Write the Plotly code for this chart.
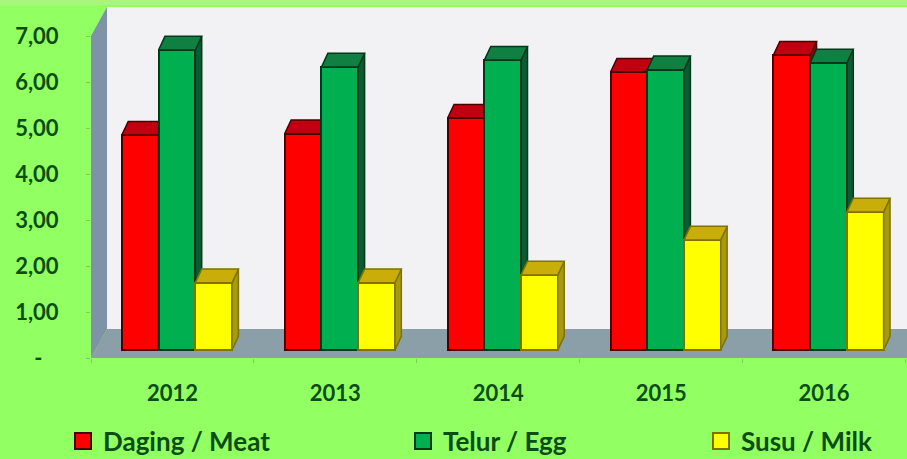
import plotly.graph_objects as go

years = ["2012", "2013", "2014", "2015", "2016"]
daging = [4.67, 4.70, 5.04, 6.04, 6.41]
telur = [6.52, 6.15, 6.30, 6.09, 6.24]
susu = [1.46, 1.46, 1.63, 2.39, 3.00]
y_ticks = [0, 1, 2, 3, 4, 5, 6, 7]
y_labels = ["-\u00a0\u00a0\u00a0", "1,00", "2,00", "3,00", "4,00", "5,00", "6,00", "7,00"]

W, H = 907, 459
ML, MB = 91, 101
PX_CAT = 162.9
PX_VAL = 46.0
X_MAX = (W - ML) / PX_CAT
Y_MAX = (H - MB) / PX_VAL
DX = 16 / PX_CAT      # full depth of the box in x units
DY = 29 / PX_VAL      # full depth of the box in y units
D0, D1 = 0.28, 0.75   # bars' front and back planes
BAR_W = 0.2255

TXT = "#0b4d14"
FONT = "Lato"
series = [
    ("Daging / Meat", daging, "#FF0000", "#C00010", "#8E0000", "#4a0000", -1, "x", "y"),
    ("Telur / Egg", telur, "#00B050", "#0F7F42", "#0A5C33", "#02381a", 0, "x2", "y2"),
    ("Susu / Milk", susu, "#FFFF00", "#C9AE0A", "#A89A10", "#7f7200", 1, "x3", "y3"),
]

fig = go.Figure()
for name, vals, front, top, side, edge, slot, xa, ya in series:
    xl = [i + 0.5 + slot * BAR_W - BAR_W / 2 + D0 * DX for i in range(len(years))]
    xr = [a + BAR_W for a in xl]
    sx, sy, tx, ty = [], [], [], []
    ddx = 0.40 * DX
    ddy = (D1 - D0) * DY
    for a, b, v in zip(xl, xr, vals):
        y0 = D0 * DY
        y1 = y0 + v
        tx += [a, b, b + ddx, a + ddx, a, None]
        ty += [y1, y1, y1 + ddy, y1 + ddy, y1, None]
        sx += [b, b + ddx, b + ddx, b, b, None]
        sy += [y0, y0 + ddy, y1 + ddy, y1, y0, None]
    for px, py, col in ((sx, sy, side), (tx, ty, top)):
        fig.add_trace(go.Scatter(x=px, y=py, mode="lines", fill="toself", fillcolor=col,
                                 line=dict(color=edge, width=1.5), xaxis=xa, yaxis=ya,
                                 showlegend=False, hoverinfo="skip"))
    fig.add_trace(go.Bar(x=[a + BAR_W / 2 for a in xl], y=vals, base=D0 * DY, width=BAR_W,
                         marker=dict(color=front, line=dict(color=edge, width=2)),
                         xaxis=xa, yaxis=ya, showlegend=False, name=name))

# legend entries, one legend per series so each can sit at its own place
legend_px = [63, 403, 701]
legend_ids = ["legend", "legend2", "legend3"]
legend_cfg = {}
for (name, vals, front, top, side, edge, slot, xa, ya), lid, lx in zip(series, legend_ids, legend_px):
    fig.add_trace(go.Scatter(x=[None], y=[None], mode="markers", name=name, legend=lid,
                             marker=dict(symbol="square", size=16, color=front,
                                         line=dict(color=edge, width=2))))
    legend_cfg[lid] = dict(x=(lx - ML) / (W - ML), y=(H - MB - 441) / (H - MB), xanchor="left",
                           yanchor="middle", bgcolor="rgba(0,0,0,0)", borderwidth=0,
                           itemsizing="trace", itemwidth=30,
                           font=dict(family=FONT, size=26, color=TXT, weight=700))

wall = "#F2F2F5"
floor = "#8A9FA8"
lwall = "#7F93A8"
shapes = [
    dict(type="rect", xref="paper", yref="paper", x0=-0.2, x1=1, y0=(H - MB - 5) / (H - MB), y1=1.0,
         fillcolor="#A8F67E", line_width=0, layer="below"),
    dict(type="path", xref="x", yref="y", layer="below", fillcolor=wall, line_width=0,
         path=f"M {DX} {DY} L {X_MAX} {DY} L {X_MAX} {7 + DY} L {DX} {7 + DY} Z"),
    dict(type="path", xref="x", yref="y", layer="below", fillcolor=lwall, line_width=0,
         path=f"M 0 0 L {DX} {DY} L {DX} {7 + DY} L 0 7 Z"),
    dict(type="path", xref="x", yref="y", layer="below", fillcolor=floor, line_width=0,
         path=f"M 0 0 L {DX} {DY} L {X_MAX} {DY} L {X_MAX} 0 Z"),
]

hidden = dict(visible=False, range=[0, X_MAX])
hidden_y = dict(visible=False, range=[0, Y_MAX])
fig.update_layout(
    width=W, height=H, autosize=False,
    margin=dict(l=ML, r=0, t=0, b=MB, pad=0, autoexpand=False),
    paper_bgcolor="#92FF62", plot_bgcolor="rgba(0,0,0,0)",
    font=dict(family=FONT, size=22, color=TXT),
    shapes=shapes, bargap=0,
    xaxis=dict(range=[0, X_MAX], tickmode="array", tickvals=[i + 0.5 for i in range(len(years))],
               ticktext=years, ticks="", showgrid=False, zeroline=False, showline=False,
               ticklabelstandoff=20, tickfont=dict(family=FONT, size=22, color=TXT, weight=700),
               minor=dict(ticks="outside", ticklen=4, tickcolor="#7ecf58", tickwidth=1,
                          tickmode="array", tickvals=list(range(len(years) + 1)), showgrid=False)),
    yaxis=dict(range=[0, Y_MAX], tickmode="array", tickvals=y_ticks, ticktext=y_labels,
               ticks="outside", ticklen=4, tickcolor="#7ecf58", showgrid=False, zeroline=False,
               showline=False, ticklabelstandoff=23,
               tickfont=dict(family=FONT, size=22, color=TXT, weight=700)),
    xaxis2=dict(overlaying="x", anchor="y2", **hidden),
    yaxis2=dict(overlaying="y", anchor="x2", **hidden_y),
    xaxis3=dict(overlaying="x", anchor="y3", **hidden),
    yaxis3=dict(overlaying="y", anchor="x3", **hidden_y),
    **legend_cfg,
)

fig.write_html("out.html", config={"displayModeBar": False},
               post_script="document.body.style.margin='0';")
